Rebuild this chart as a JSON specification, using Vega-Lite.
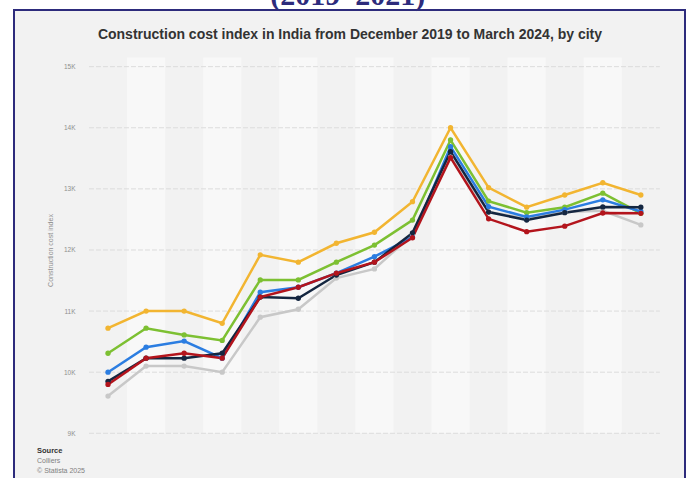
{
  "$schema": "https://vega.github.io/schema/vega-lite/v6.json",
  "description": "Construction cost index in India by city, Dec 2019 to Mar 2024",
  "autosize": {"type": "none"},
  "padding": {"left": 14, "top": 10, "right": 3, "bottom": 0},
  "width": 671,
  "height": 470,
  "background": "white",
  "datasets": {
    "cci": [
      {"idx": 1, "Pune": 9610, "Mumbai": 10720, "Delhi NCR": 10310, "Bengaluru": 10000, "Hyderabad": 9850, "Chennai": 9800},
      {"idx": 2, "Pune": 10100, "Mumbai": 11000, "Delhi NCR": 10720, "Bengaluru": 10410, "Hyderabad": 10230, "Chennai": 10230},
      {"idx": 3, "Pune": 10100, "Mumbai": 11000, "Delhi NCR": 10610, "Bengaluru": 10510, "Hyderabad": 10230, "Chennai": 10310},
      {"idx": 4, "Pune": 10000, "Mumbai": 10800, "Delhi NCR": 10520, "Bengaluru": 10230, "Hyderabad": 10310, "Chennai": 10230},
      {"idx": 5, "Pune": 10900, "Mumbai": 11920, "Delhi NCR": 11510, "Bengaluru": 11310, "Hyderabad": 11230, "Chennai": 11230},
      {"idx": 6, "Pune": 11030, "Mumbai": 11800, "Delhi NCR": 11510, "Bengaluru": 11390, "Hyderabad": 11210, "Chennai": 11390},
      {"idx": 7, "Pune": 11540, "Mumbai": 12110, "Delhi NCR": 11800, "Bengaluru": 11620, "Hyderabad": 11590, "Chennai": 11620},
      {"idx": 8, "Pune": 11690, "Mumbai": 12290, "Delhi NCR": 12080, "Bengaluru": 11890, "Hyderabad": 11800, "Chennai": 11800},
      {"idx": 9, "Pune": 12250, "Mumbai": 12790, "Delhi NCR": 12490, "Bengaluru": 12210, "Hyderabad": 12280, "Chennai": 12200},
      {"idx": 10, "Pune": 13520, "Mumbai": 14000, "Delhi NCR": 13800, "Bengaluru": 13690, "Hyderabad": 13610, "Chennai": 13510},
      {"idx": 11, "Pune": 12620, "Mumbai": 13020, "Delhi NCR": 12800, "Bengaluru": 12710, "Hyderabad": 12620, "Chennai": 12510},
      {"idx": 12, "Pune": 12520, "Mumbai": 12700, "Delhi NCR": 12610, "Bengaluru": 12540, "Hyderabad": 12490, "Chennai": 12300},
      {"idx": 13, "Pune": 12620, "Mumbai": 12900, "Delhi NCR": 12700, "Bengaluru": 12660, "Hyderabad": 12610, "Chennai": 12390},
      {"idx": 14, "Pune": 12640, "Mumbai": 13100, "Delhi NCR": 12930, "Bengaluru": 12820, "Hyderabad": 12705, "Chennai": 12605},
      {"idx": 15, "Pune": 12410, "Mumbai": 12900, "Delhi NCR": 12600, "Bengaluru": 12630, "Hyderabad": 12700, "Chennai": 12600}
    ],
    "bands": [
      {"s": 1.5, "e": 2.5}, {"s": 3.5, "e": 4.5}, {"s": 5.5, "e": 6.5},
      {"s": 7.5, "e": 8.5}, {"s": 9.5, "e": 10.5}, {"s": 11.5, "e": 12.5},
      {"s": 13.5, "e": 14.5}
    ],
    "grid": [
      {"g": 9000}, {"g": 10000}, {"g": 11000}, {"g": 12000},
      {"g": 13000}, {"g": 14000}, {"g": 15000}
    ]
  },
  "layer": [
    {
      "data": {"name": "bands"},
      "mark": {"type": "rect", "fill": "#f8f8f8"},
      "encoding": {
        "x": {"field": "s", "type": "quantitative", "scale": {"domain": [-1.47, 16.16], "nice": false, "zero": false}, "axis": null},
        "x2": {"field": "e"},
        "y": {"datum": 9000, "type": "quantitative", "scale": {"domain": [8236, 15927], "nice": false, "zero": false}},
        "y2": {"datum": 15150}
      }
    },
    {
      "data": {"name": "grid"},
      "mark": {"type": "rule", "stroke": "#dcdcdc", "strokeWidth": 1, "strokeDash": [5, 2]},
      "encoding": {
        "x": {"datum": 0.5, "type": "quantitative", "scale": {"domain": [-1.47, 16.16], "nice": false, "zero": false}, "axis": null},
        "x2": {"datum": 15.5},
        "y": {
          "field": "g",
          "type": "quantitative",
          "scale": {"domain": [8236, 15927], "nice": false, "zero": false},
          "axis": {
            "values": [9000, 10000, 11000, 12000, 13000, 14000, 15000],
            "labelExpr": "datum.value / 1000 + 'K'",
            "grid": false,
            "domain": false,
            "ticks": false,
            "offset": -61,
            "labelPadding": 0,
            "labelFont": "Liberation Sans",
            "labelFontSize": 6.5,
            "labelColor": "#8f8f8f",
            "title": "Construction cost index",
            "titleFont": "Liberation Sans",
            "titleFontSize": 7,
            "titleFontWeight": "normal",
            "titleColor": "#8f8f8f",
            "titleBaseline": "middle",
            "titleX": -25,
            "titleY": 240
          }
        }
      }
    },
    {
      "data": {"name": "cci"},
      "transform": [
        {"fold": ["Pune", "Mumbai", "Delhi NCR", "Bengaluru", "Hyderabad", "Chennai"], "as": ["city", "value"]}
      ],
      "mark": {"type": "line", "strokeWidth": 2.5, "point": {"filled": true, "size": 28}},
      "encoding": {
        "x": {"field": "idx", "type": "quantitative", "scale": {"domain": [-1.47, 16.16], "nice": false, "zero": false}, "axis": null},
        "y": {"field": "value", "type": "quantitative", "scale": {"domain": [8236, 15927], "nice": false, "zero": false}},
        "color": {
          "field": "city",
          "type": "nominal",
          "scale": {
            "domain": ["Pune", "Mumbai", "Delhi NCR", "Bengaluru", "Hyderabad", "Chennai"],
            "range": ["#c8c8c8", "#f2b531", "#7dc032", "#2b7de1", "#142640", "#b3141c"]
          },
          "legend": null
        },
        "order": {"field": "idx", "type": "quantitative"}
      }
    },
    {
      "data": {"values": [{"t": "Construction cost index in India from December 2019 to March 2024, by city"}]},
      "mark": {"type": "text", "font": "Liberation Sans", "fontWeight": "bold", "fontSize": 14, "color": "#333333", "align": "center", "baseline": "alphabetic"},
      "encoding": {
        "x": {"datum": 7.357, "type": "quantitative"},
        "y": {"datum": 15460, "type": "quantitative"},
        "text": {"field": "t"}
      }
    },
    {
      "data": {"values": [{"t": "(2019–2021)"}]},
      "mark": {"type": "text", "font": "Liberation Serif", "fontWeight": "bold", "fontSize": 30, "color": "#2d2b7c", "align": "center", "baseline": "alphabetic"},
      "encoding": {
        "x": {"datum": 7.3, "type": "quantitative"},
        "y": {"datum": 16010, "type": "quantitative"},
        "text": {"field": "t"}
      }
    },
    {
      "data": {"values": [{"t": "Source"}]},
      "mark": {"type": "text", "font": "Liberation Sans", "fontWeight": "bold", "fontSize": 7.5, "color": "#333333", "align": "left", "baseline": "middle"},
      "encoding": {
        "x": {"datum": -0.865, "type": "quantitative"},
        "y": {"datum": 8710, "type": "quantitative"},
        "text": {"field": "t"}
      }
    },
    {
      "data": {"values": [{"t": "Colliers"}]},
      "mark": {"type": "text", "font": "Liberation Sans", "fontSize": 7, "color": "#808080", "align": "left", "baseline": "middle"},
      "encoding": {
        "x": {"datum": -0.865, "type": "quantitative"},
        "y": {"datum": 8547, "type": "quantitative"},
        "text": {"field": "t"}
      }
    },
    {
      "data": {"values": [{"t": "© Statista 2025"}]},
      "mark": {"type": "text", "font": "Liberation Sans", "fontSize": 7, "color": "#808080", "align": "left", "baseline": "middle"},
      "encoding": {
        "x": {"datum": -0.865, "type": "quantitative"},
        "y": {"datum": 8383, "type": "quantitative"},
        "text": {"field": "t"}
      }
    }
  ],
  "config": {
    "view": {"fill": "#f2f2f2", "stroke": "#2d2b7c", "strokeWidth": 2}
  }
}
